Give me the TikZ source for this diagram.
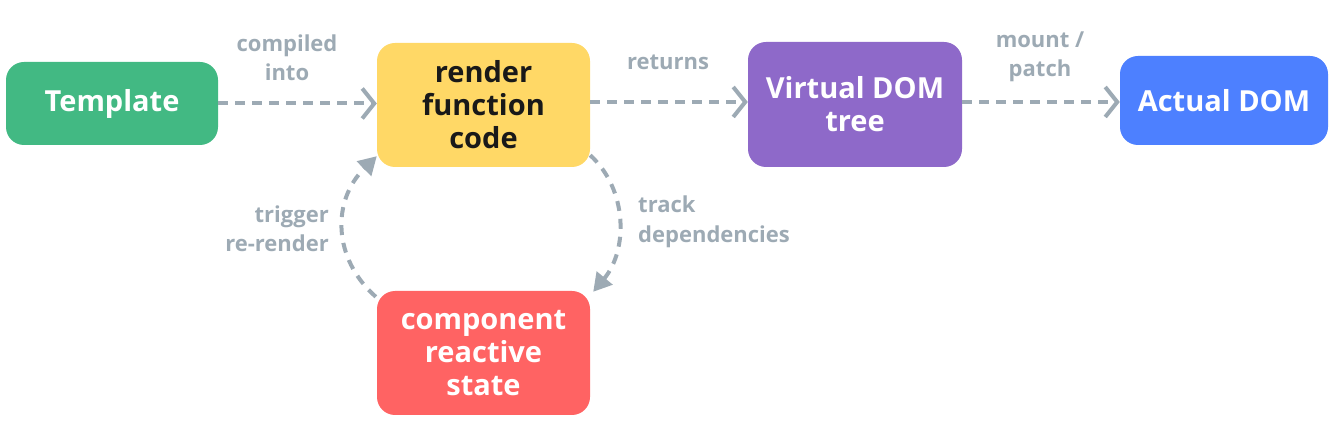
\documentclass[tikz,border=0pt]{standalone}
\usepackage{fontspec}
\setmainfont{Open Sans}
\usetikzlibrary{arrows.meta}
\definecolor{cgreen}{HTML}{42B983}
\definecolor{cyellow}{HTML}{FFD866}
\definecolor{cpurple}{HTML}{8E69C9}
\definecolor{cblue}{HTML}{4D80FF}
\definecolor{cred}{HTML}{FF6363}
\definecolor{cgrey}{HTML}{9DAAB4}
\tikzset{
  box/.style={rounded corners=18, align=center, inner sep=0, font=\fontsize{29}{33}\selectfont\bfseries, text=white},
  lbl/.style={font=\fontsize{22}{29.5}\selectfont\bfseries, text=cgrey, align=center, inner sep=0},
  flow/.style={draw=cgrey, line width=4, dash pattern=on 10 off 7, -{Straight Barb[length=12,width=30,line width=4]}},
  loop/.style={draw=cgrey, line width=4, dash pattern=on 10 off 8, -{Triangle[length=18,width=20]}},
}
\begin{document}
\begin{tikzpicture}[x=1pt,y=-1pt]
\useasboundingbox (0,0) rectangle (1342,435);
\node[box, fill=cgreen, minimum width=212, minimum height=83] (tpl) at (112,103.5) {Template};
\node[box, fill=cyellow, text=black!90, minimum width=213, minimum height=124] (rnd) at (483.5,105) {render\\function\\code};
\node[box, fill=cpurple, minimum width=214, minimum height=125] (vdom) at (855,104.5) {Virtual DOM\\tree};
\node[box, fill=cblue, minimum width=208, minimum height=89] (adom) at (1224,100.5) {Actual DOM};
\node[box, fill=cred, minimum width=213, minimum height=124] (st) at (483.5,353) {component\\reactive\\state};
\draw[flow] (tpl.east) -- (rnd.west |- tpl.east);
\draw[flow] (rnd.east |- 0,102) -- (vdom.west |- 0,102);
\draw[flow] (vdom.east |- 0,102) -- (adom.west |- 0,102);
\node[lbl] (l1) at (287,58) {compiled\\into};
\node[lbl] (l2) at (668,62) {returns};
\node[lbl] (l3) at (1040,57) {mount /\\patch};
\coordinate (a1) at ([yshift=12]rnd.south east);
\coordinate (a2) at ([xshift=3,yshift=-1]st.north east);
\draw[loop] (a1) .. controls (628,190) and (628,250) .. (a2);
\coordinate (b1) at ([xshift=-1,yshift=-6]st.north west);
\coordinate (b2) at ([xshift=0,yshift=11]rnd.south west);
\draw[loop] (b1) .. controls (332,258) and (332,200) .. (b2);
\node[lbl, align=left, anchor=west] (l4) at (638,222) {track\\dependencies};
\node[lbl, align=right, anchor=east] (l5) at (329,229) {trigger\\re-render};
\end{tikzpicture}
\end{document}
